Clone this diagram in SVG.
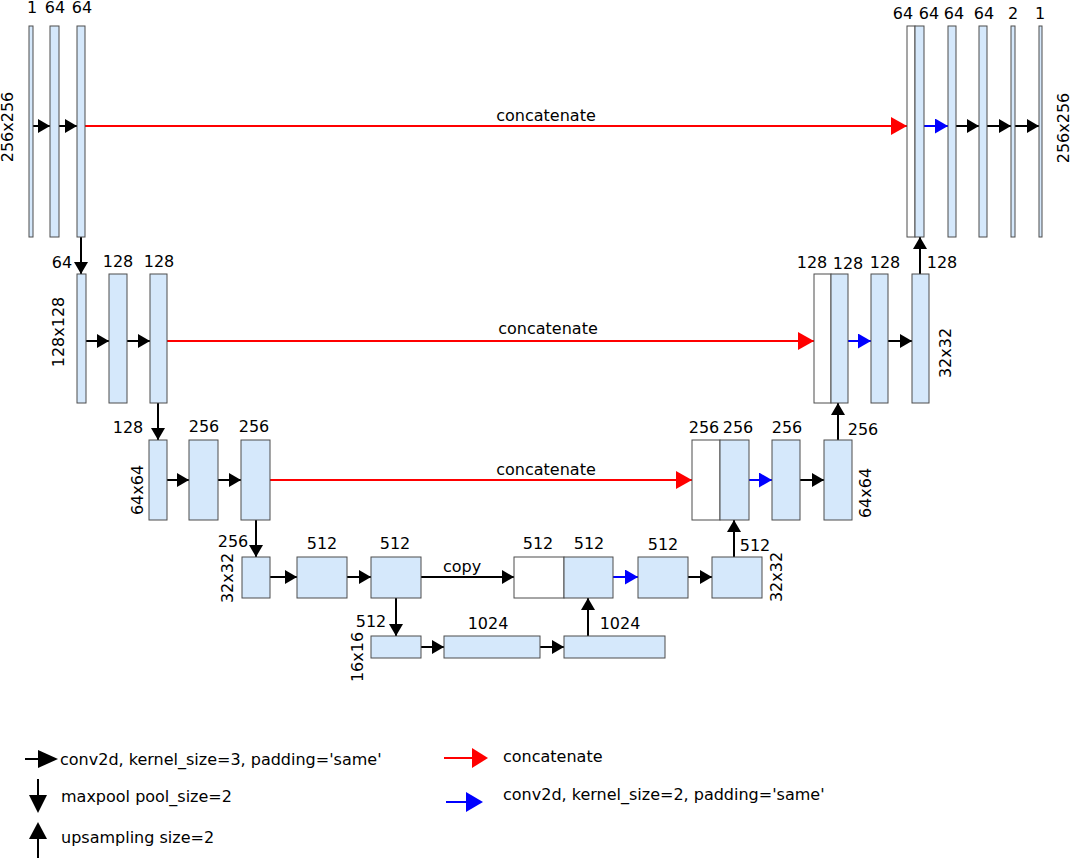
<svg xmlns="http://www.w3.org/2000/svg" width="1072" height="858" viewBox="0 0 1072 858">
<style>
.b{fill:#d5e8fb;stroke:#4d4d4d;stroke-width:1}
.w{fill:#ffffff;stroke:#4d4d4d;stroke-width:1}
text{font-family:"DejaVu Sans",sans-serif;font-size:16px;fill:#000}
.m{text-anchor:middle}
.k{fill:none;stroke:#000;stroke-width:2}
.r{fill:none;stroke:#ff0000;stroke-width:2}
.u{fill:none;stroke:#0000ff;stroke-width:2}
</style>
<defs>
<marker id="ak" markerUnits="userSpaceOnUse" markerWidth="12" markerHeight="14" refX="12" refY="7" orient="auto"><path d="M0,0 L12,7 L0,14 z" fill="#000"/></marker>
<marker id="ar" markerUnits="userSpaceOnUse" markerWidth="16" markerHeight="18" refX="16" refY="9" orient="auto"><path d="M0,0 L16,9 L0,18 z" fill="#ff0000"/></marker>
<marker id="au" markerUnits="userSpaceOnUse" markerWidth="13" markerHeight="15" refX="13" refY="7.5" orient="auto"><path d="M0,0 L13,7.5 L0,15 z" fill="#0000ff"/></marker>
</defs>
<rect width="1072" height="858" fill="#fff"/>

<g id="connectors">
<path class="k" d="M33,126 H50" marker-end="url(#ak)"/>
<path class="k" d="M59,126 H77" marker-end="url(#ak)"/>
<path class="r" d="M85,126 H907" marker-end="url(#ar)"/>
<path class="u" d="M924,126 H948" marker-end="url(#au)"/>
<path class="k" d="M956,126 H979" marker-end="url(#ak)"/>
<path class="k" d="M987,126 H1011" marker-end="url(#ak)"/>
<path class="k" d="M1015,126 H1039" marker-end="url(#ak)"/>
<path class="k" d="M81,237 V274" marker-end="url(#ak)"/>
<path class="k" d="M920,274 V237" marker-end="url(#ak)"/>
<path class="k" d="M86,341 H109" marker-end="url(#ak)"/>
<path class="k" d="M127,341 H150" marker-end="url(#ak)"/>
<path class="r" d="M167,341 H814" marker-end="url(#ar)"/>
<path class="u" d="M848,341 H871" marker-end="url(#au)"/>
<path class="k" d="M888,341 H912" marker-end="url(#ak)"/>
<path class="k" d="M158,403 V440" marker-end="url(#ak)"/>
<path class="k" d="M838,440 V403" marker-end="url(#ak)"/>
<path class="k" d="M167,480 H189" marker-end="url(#ak)"/>
<path class="k" d="M218,480 H241" marker-end="url(#ak)"/>
<path class="r" d="M270,480 H692" marker-end="url(#ar)"/>
<path class="u" d="M749,480 H772" marker-end="url(#au)"/>
<path class="k" d="M800,480 H824" marker-end="url(#ak)"/>
<path class="k" d="M256,520 V557" marker-end="url(#ak)"/>
<path class="k" d="M734,557 V520" marker-end="url(#ak)"/>
<path class="k" d="M270,577 H297" marker-end="url(#ak)"/>
<path class="k" d="M347,577 H371" marker-end="url(#ak)"/>
<path class="k" d="M421,577 H514" marker-end="url(#ak)"/>
<path class="u" d="M613,577 H638" marker-end="url(#au)"/>
<path class="k" d="M688,577 H712" marker-end="url(#ak)"/>
<path class="k" d="M396,598 V636" marker-end="url(#ak)"/>
<path class="k" d="M588,636 V598" marker-end="url(#ak)"/>
<path class="k" d="M421,647 H444" marker-end="url(#ak)"/>
<path class="k" d="M540,647 H564" marker-end="url(#ak)"/>
<text class="m" x="546" y="121">concatenate</text>
<text class="m" x="548" y="334">concatenate</text>
<text class="m" x="546" y="475">concatenate</text>
<text class="m" x="462" y="572">copy</text>
</g>

<g id="n1a"><rect class="b" x="29" y="26" width="4" height="211"/><text class="m" x="32" y="13">1</text>
<text class="m" transform="translate(13,127) rotate(-90)">256x256</text></g>
<g id="n1b"><rect class="b" x="50" y="26" width="9" height="211"/><text class="m" x="55" y="13">64</text></g>
<g id="n1c"><rect class="b" x="77" y="26" width="8" height="211"/><text class="m" x="82" y="13">64</text></g>
<g id="n1d"><rect class="w" x="907" y="26" width="8" height="211"/><rect class="b" x="915" y="26" width="9" height="211"/>
<text class="m" x="903" y="19">64</text><text class="m" x="929" y="19">64</text></g>
<g id="n1e"><rect class="b" x="948" y="26" width="8" height="211"/><text class="m" x="954" y="19">64</text></g>
<g id="n1f"><rect class="b" x="979" y="26" width="8" height="211"/><text class="m" x="984" y="19">64</text></g>
<g id="n1g"><rect class="b" x="1011" y="26" width="4" height="211"/><text class="m" x="1013" y="19">2</text></g>
<g id="n1h"><rect class="b" x="1039" y="26" width="3" height="211"/><text class="m" x="1040" y="19">1</text>
<text class="m" transform="translate(1069,128) rotate(-90)">256x256</text></g>

<g id="n2a"><rect class="b" x="77" y="274" width="9" height="129"/><text class="m" x="62" y="268">64</text>
<text class="m" transform="translate(64,332) rotate(-90)">128x128</text></g>
<g id="n2b"><rect class="b" x="109" y="274" width="18" height="129"/><text class="m" x="118" y="267">128</text></g>
<g id="n2c"><rect class="b" x="150" y="274" width="17" height="129"/><text class="m" x="159" y="267">128</text></g>
<g id="n2d"><rect class="w" x="814" y="274" width="17" height="129"/><rect class="b" x="831" y="274" width="17" height="129"/>
<text class="m" x="812" y="268">128</text><text class="m" x="848" y="269">128</text></g>
<g id="n2e"><rect class="b" x="871" y="274" width="17" height="129"/><text class="m" x="885" y="268">128</text></g>
<g id="n2f"><rect class="b" x="912" y="274" width="17" height="129"/><text class="m" x="942" y="268">128</text>
<text class="m" transform="translate(951,353) rotate(-90)">32x32</text></g>

<g id="n3a"><rect class="b" x="149" y="440" width="18" height="80"/><text class="m" x="128" y="433">128</text>
<text class="m" transform="translate(143,490) rotate(-90)">64x64</text></g>
<g id="n3b"><rect class="b" x="189" y="440" width="29" height="80"/><text class="m" x="204" y="432">256</text></g>
<g id="n3c"><rect class="b" x="241" y="440" width="29" height="80"/><text class="m" x="254" y="432">256</text></g>
<g id="n3d"><rect class="w" x="692" y="440" width="28" height="80"/><rect class="b" x="720" y="440" width="29" height="80"/>
<text class="m" x="704" y="433">256</text><text class="m" x="738" y="433">256</text></g>
<g id="n3e"><rect class="b" x="772" y="440" width="28" height="80"/><text class="m" x="787" y="433">256</text></g>
<g id="n3f"><rect class="b" x="824" y="440" width="28" height="80"/><text class="m" x="863" y="435">256</text>
<text class="m" transform="translate(871,493) rotate(-90)">64x64</text></g>

<g id="n4a"><rect class="b" x="242" y="557" width="28" height="41"/><text class="m" x="233" y="547">256</text>
<text class="m" transform="translate(233,578) rotate(-90)">32x32</text></g>
<g id="n4b"><rect class="b" x="297" y="557" width="50" height="41"/><text class="m" x="322" y="549">512</text></g>
<g id="n4c"><rect class="b" x="371" y="557" width="50" height="41"/><text class="m" x="395" y="549">512</text></g>
<g id="n4d"><rect class="w" x="514" y="557" width="50" height="41"/><rect class="b" x="564" y="557" width="49" height="41"/>
<text class="m" x="538" y="549">512</text><text class="m" x="589" y="549">512</text></g>
<g id="n4e"><rect class="b" x="638" y="557" width="50" height="41"/><text class="m" x="663" y="550">512</text></g>
<g id="n4f"><rect class="b" x="712" y="557" width="50" height="41"/><text class="m" x="755" y="551">512</text>
<text class="m" transform="translate(782,577) rotate(-90)">32x32</text></g>

<g id="n5a"><rect class="b" x="371" y="636" width="50" height="22"/><text class="m" x="371" y="627">512</text>
<text class="m" transform="translate(363,657) rotate(-90)">16x16</text></g>
<g id="n5b"><rect class="b" x="444" y="636" width="96" height="22"/><text class="m" x="488" y="629">1024</text></g>
<g id="n5c"><rect class="b" x="564" y="636" width="101" height="22"/><text class="m" x="620" y="629">1024</text></g>

<g id="legend">
<path d="M25,759 H40" stroke="#000" stroke-width="2"/><polygon points="38,750 58,759 38,768" fill="#000"/>
<text x="60" y="765">conv2d, kernel_size=3, padding='same'</text>
<path d="M38,779 V800" stroke="#000" stroke-width="2"/><polygon points="29,795 47,795 38,813" fill="#000"/>
<text x="61" y="802">maxpool pool_size=2</text>
<path d="M38,836 V858" stroke="#000" stroke-width="2"/><polygon points="29,839 47,839 38,822" fill="#000"/>
<text x="61" y="843">upsampling size=2</text>
<path d="M444,758 H474" stroke="#ff0000" stroke-width="2"/><polygon points="472,748 488,758 472,768" fill="#ff0000"/>
<text x="503" y="762">concatenate</text>
<path d="M446,802 H468" stroke="#0000ff" stroke-width="2"/><polygon points="466,792 483,802 466,812" fill="#0000ff"/>
<text x="503" y="800">conv2d, kernel_size=2, padding='same'</text>
</g>
</svg>
